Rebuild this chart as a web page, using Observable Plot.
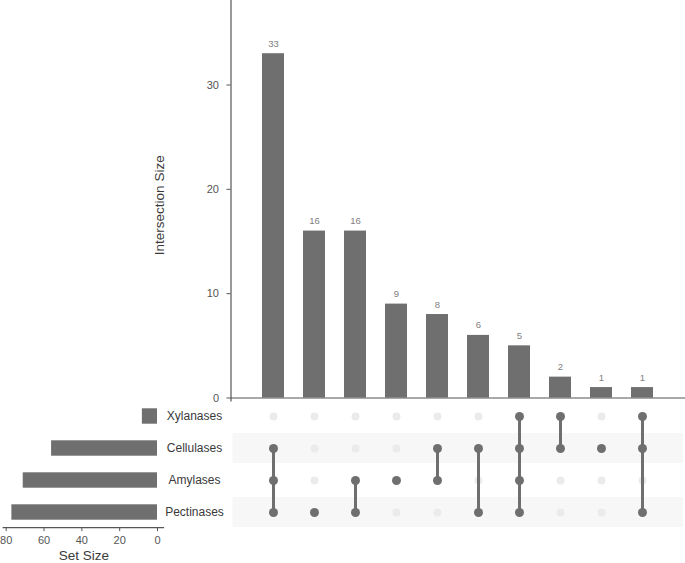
<!DOCTYPE html>
<html><head><meta charset="utf-8">
<script src="https://cdn.jsdelivr.net/npm/d3@7"></script>
<script src="https://cdn.jsdelivr.net/npm/@observablehq/plot@0.6"></script>
<style>
body{margin:0;background:#fff;}
#chart{position:relative;width:685px;height:563px;font-family:"Liberation Sans",Arial,sans-serif;}
#chart svg{position:absolute;}
</style></head><body><div id="chart"></div>
<script>
// ---- data ----
const sets = ["Xylanases", "Cellulases", "Amylases", "Pectinases"];
const setSizes = [8, 56, 71, 77];
const intersectionSizes = [33, 16, 16, 9, 8, 6, 5, 2, 1, 1];
const intersectionMembers = [
  ["Cellulases", "Amylases", "Pectinases"],
  ["Pectinases"],
  ["Amylases", "Pectinases"],
  ["Amylases"],
  ["Cellulases", "Amylases"],
  ["Cellulases", "Pectinases"],
  ["Xylanases", "Cellulases", "Amylases", "Pectinases"],
  ["Xylanases", "Cellulases"],
  ["Cellulases"],
  ["Xylanases", "Cellulases", "Pectinases"]
];
const intersectionTicks = [0, 10, 20, 30];
const setSizeTicks = [0, 20, 40, 60, 80];

// ---- derived tables ----
const font = '"Liberation Sans", Arial, sans-serif';
const barColor = "#6f6f6f";
const axisColor = "#555";
const combos = intersectionSizes.map((v, i) => ({id: "C" + (i + 1), size: v, members: intersectionMembers[i]}));
const comboIds = combos.map(d => d.id);
const matrixCells = combos.flatMap(c => sets.map(s => ({id: c.id, set: s, on: c.members.includes(s)})));
const setData = sets.map((s, i) => ({set: s, size: setSizes[i]}));
const xScale = {type: "band", domain: comboIds, paddingInner: 0.467, paddingOuter: 0.733, axis: null};
const baseStyle = {fontFamily: font, background: "transparent", overflow: "visible"};

const chart = document.getElementById("chart");

// main intersection bars
const main = Plot.plot({
  width: 685, height: 398, marginLeft: 230.5, marginRight: 0, marginTop: 0, marginBottom: 0.5,
  style: baseStyle,
  x: xScale,
  y: {domain: [0, 38.1], axis: null},
  marks: [
    Plot.barY(combos, {x: "id", y: "size", fill: barColor}),
    Plot.text(combos, {x: "id", y: "size", text: d => String(d.size), dy: -10, fill: "#808080", fontSize: 9.5}),
    Plot.ruleY([0], {stroke: axisColor, strokeWidth: 1.2}),
    Plot.frame({anchor: "left", stroke: axisColor, strokeWidth: 1.2, insetBottom: -3}),
    Plot.axisY({ticks: intersectionTicks, tickSize: 4, tickPadding: 8, fontSize: 11, color: "#555", label: null}),
    Plot.text(["Intersection Size"], {frameAnchor: "left", textAnchor: "middle", dx: -71, dy: 6, rotate: -90, fontSize: 13.5, fill: "#3a3a3a"})
  ]
});
main.style.left = "0px"; main.style.top = "0px";
chart.appendChild(main);

// matrix
const matrix = Plot.plot({
  width: 685, height: 135, marginLeft: 230.5, marginRight: 0, marginTop: 1.4, marginBottom: 2.9,
  style: baseStyle,
  x: xScale,
  y: {type: "band", domain: sets, padding: 0, axis: null},
  marks: [
    Plot.cell(sets.filter((s, i) => i % 2 === 1), {y: d => d, fill: "#f7f7f7", insetTop: 1, insetBottom: 1, insetLeft: 2, insetRight: 2}),
    Plot.dot(matrixCells.filter(d => !d.on), {x: "id", y: "set", r: 4, fill: "#ebebeb"}),
    Plot.line(matrixCells.filter(d => d.on), {x: "id", y: "set", z: "id", stroke: barColor, strokeWidth: 3}),
    Plot.dot(matrixCells.filter(d => d.on), {x: "id", y: "set", r: 4.5, fill: barColor})
  ]
});
matrix.style.left = "0px"; matrix.style.top = "397px";
chart.appendChild(matrix);

// set sizes
const setPlot = Plot.plot({
  width: 232, height: 166, marginLeft: 5.7, marginRight: 75, marginTop: 1.4, marginBottom: 33.9,
  style: baseStyle,
  x: {domain: [0, 80], reverse: true, axis: null},
  y: {type: "band", domain: sets, padding: 0, axis: null},
  marks: [
    Plot.barX(setData, {x: "size", y: "set", fill: barColor, insetTop: 8.3, insetBottom: 8.3}),
    Plot.frame({anchor: "bottom", stroke: axisColor, strokeWidth: 1.2, insetLeft: -3, insetRight: -6, insetBottom: 2}),
    Plot.axisX({ticks: setSizeTicks, tickSize: 4, dy: -2, fontSize: 11, color: "#555", label: null}),
    Plot.text(setData, {y: "set", text: "set", frameAnchor: "right", dx: 37, textAnchor: "middle", fontSize: 12, fill: "#3a3a3a"}),
    Plot.text(["Set Size"], {frameAnchor: "bottom", dx: 2, dy: 30, fontSize: 13.5, fill: "#3a3a3a"})
  ]
});
setPlot.style.left = "0px"; setPlot.style.top = "397px";
chart.appendChild(setPlot);
</script>
</body></html>
